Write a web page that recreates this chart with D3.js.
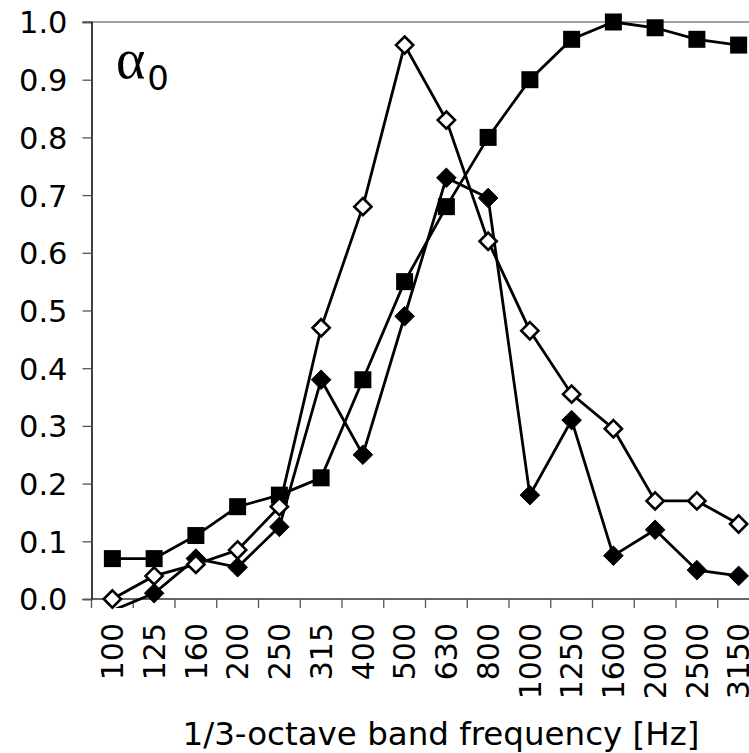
<!DOCTYPE html>
<html>
<head>
<meta charset="utf-8">
<script src="https://cdnjs.cloudflare.com/ajax/libs/d3/7.8.5/d3.min.js"></script>
<style>
  body { margin: 0; background: #fff; }
  svg { display: block; }
  text { font-family: "DejaVu Sans", Verdana, sans-serif; fill: #000; }
</style>
</head>
<body>
<div id="plot"></div>
<script>
// Chart data (1/3-octave bands and absorption coefficients)
var bands = ["100", "125", "160", "200", "250", "315", "400", "500", "630", "800",
             "1000", "1250", "1600", "2000", "2500", "3150"];
var squareSeries = [0.07, 0.07, 0.11, 0.16, 0.18, 0.21, 0.38, 0.55, 0.68, 0.80,
                    0.90, 0.97, 1.00, 0.99, 0.97, 0.96];
var openDiamondSeries = [0.00, 0.04, 0.06, 0.085, 0.16, 0.47, 0.68, 0.96, 0.83, 0.62,
                         0.465, 0.355, 0.295, 0.17, 0.17, 0.13];
var filledDiamondSeries = [-0.02, 0.01, 0.07, 0.055, 0.125, 0.38, 0.25, 0.49, 0.73, 0.695,
                           0.18, 0.31, 0.075, 0.12, 0.05, 0.04];
var yTicks = [0, 0.1, 0.2, 0.3, 0.4, 0.5, 0.6, 0.7, 0.8, 0.9, 1.0];

// SVG area
var svgWidth = 749;
var svgHeight = 753;

var margin = { top: 22, left: 91.5, bottom: 154 };
var bandWidth = 41.75;
var chartWidth = bandWidth * bands.length;
var chartHeight = svgHeight - margin.top - margin.bottom;

var svg = d3.select("#plot")
  .append("svg")
  .attr("width", svgWidth)
  .attr("height", svgHeight);

var chartGroup = svg.append("g")
  .attr("transform", `translate(${margin.left}, ${margin.top})`);

// Scales
var xBandScale = d3.scaleBand()
  .domain(bands)
  .range([0, chartWidth])
  .padding(0);

var yLinearScale = d3.scaleLinear()
  .domain([0, 1])
  .range([chartHeight, 0]);

// top border of plot area
chartGroup.append("line")
  .attr("x1", -9).attr("x2", chartWidth)
  .attr("y1", yLinearScale(1)).attr("y2", yLinearScale(1))
  .attr("stroke", "#808080")
  .attr("stroke-width", 1.3);

// left axis
var leftAxis = d3.axisLeft(yLinearScale)
  .tickValues(yTicks)
  .tickFormat(d3.format(".1f"))
  .tickSize(9)
  .tickPadding(15);

var yAxisGroup = chartGroup.append("g").call(leftAxis);
yAxisGroup.select(".domain").attr("stroke", "#000").attr("stroke-width", 1.5);
yAxisGroup.selectAll(".tick line").attr("stroke", "#555").attr("stroke-width", 1.3);
yAxisGroup.selectAll(".tick text")
  .style("font-size", "30.5px")
  .attr("dy", "0.36em");

// bottom axis: labels at band centres, ticks at band boundaries
var xAxisGroup = chartGroup.append("g")
  .attr("transform", "translate(0, " + chartHeight + ")");

xAxisGroup.append("line")
  .attr("x1", 0).attr("x2", chartWidth)
  .attr("y1", 0).attr("y2", 0)
  .attr("stroke", "#333")
  .attr("stroke-width", 1.5);

var boundaries = bands.map(d => xBandScale(d)).concat([chartWidth]);
xAxisGroup.selectAll("line.tick")
  .data(boundaries)
  .enter()
  .append("line")
  .attr("class", "tick")
  .attr("x1", d => d).attr("x2", d => d)
  .attr("y1", 0).attr("y2", 9)
  .attr("stroke", "#555")
  .attr("stroke-width", 1.3);

xAxisGroup.selectAll("text.xlabel")
  .data(bands)
  .enter()
  .append("text")
  .attr("class", "xlabel")
  .attr("transform", d => `translate(${xBandScale(d) + xBandScale.bandwidth() / 2}, 24) rotate(-90)`)
  .attr("dy", "0.36em")
  .style("text-anchor", "end")
  .style("font-size", "30px")
  .text(d => d);

// x axis title
svg.append("text")
  .attr("x", 441)
  .attr("y", 745)
  .style("text-anchor", "middle")
  .style("font-size", "32.5px")
  .text("1/3-octave band frequency [Hz]");

// alpha label
var alphaLabel = svg.append("text")
  .attr("x", 116)
  .attr("y", 78);
alphaLabel.append("tspan")
  .style("font-family", "'Liberation Serif', 'DejaVu Serif', serif")
  .style("font-size", "56px")
  .text("α");
alphaLabel.append("tspan")
  .attr("dy", 12)
  .attr("dx", 2)
  .style("font-size", "34px")
  .text("0");

// clip region for lines (slightly below the axis, as in the original)
svg.append("defs").append("clipPath")
  .attr("id", "plot-clip")
  .append("rect")
  .attr("x", 0).attr("y", -20)
  .attr("width", chartWidth).attr("height", chartHeight + 29);

var xCenter = d => xBandScale(d) + xBandScale.bandwidth() / 2;

var drawLine = d3.line()
  .x((v, i) => xCenter(bands[i]))
  .y(v => yLinearScale(v));

function drawSeries(values, marker) {
  var g = chartGroup.append("g");
  g.append("path")
    .attr("d", drawLine(values))
    .attr("clip-path", "url(#plot-clip)")
    .attr("fill", "none")
    .attr("stroke", "#000")
    .attr("stroke-width", 2.8);

  var pts = values.map((v, i) => ({ band: bands[i], value: v }))
    .filter(d => d.value >= 0);

  if (marker === "square") {
    g.selectAll("rect")
      .data(pts)
      .enter()
      .append("rect")
      .attr("x", d => xCenter(d.band) - 8.5)
      .attr("y", d => yLinearScale(d.value) - 8.5)
      .attr("width", 17)
      .attr("height", 17)
      .attr("fill", "#000");
  } else {
    var r = marker === "filled" ? 9.8 : 8.6;
    g.selectAll("path.marker")
      .data(pts)
      .enter()
      .append("path")
      .attr("class", "marker")
      .attr("d", `M0,${-r}L${r},0L0,${r}L${-r},0Z`)
      .attr("transform", d => `translate(${xCenter(d.band)}, ${yLinearScale(d.value)})`)
      .attr("fill", marker === "filled" ? "#000" : "#fff")
      .attr("stroke", "#000")
      .attr("stroke-width", marker === "filled" ? 1 : 2.6);
  }
}

drawSeries(squareSeries, "square");
drawSeries(filledDiamondSeries, "filled");
drawSeries(openDiamondSeries, "open");
</script>
</body>
</html>
